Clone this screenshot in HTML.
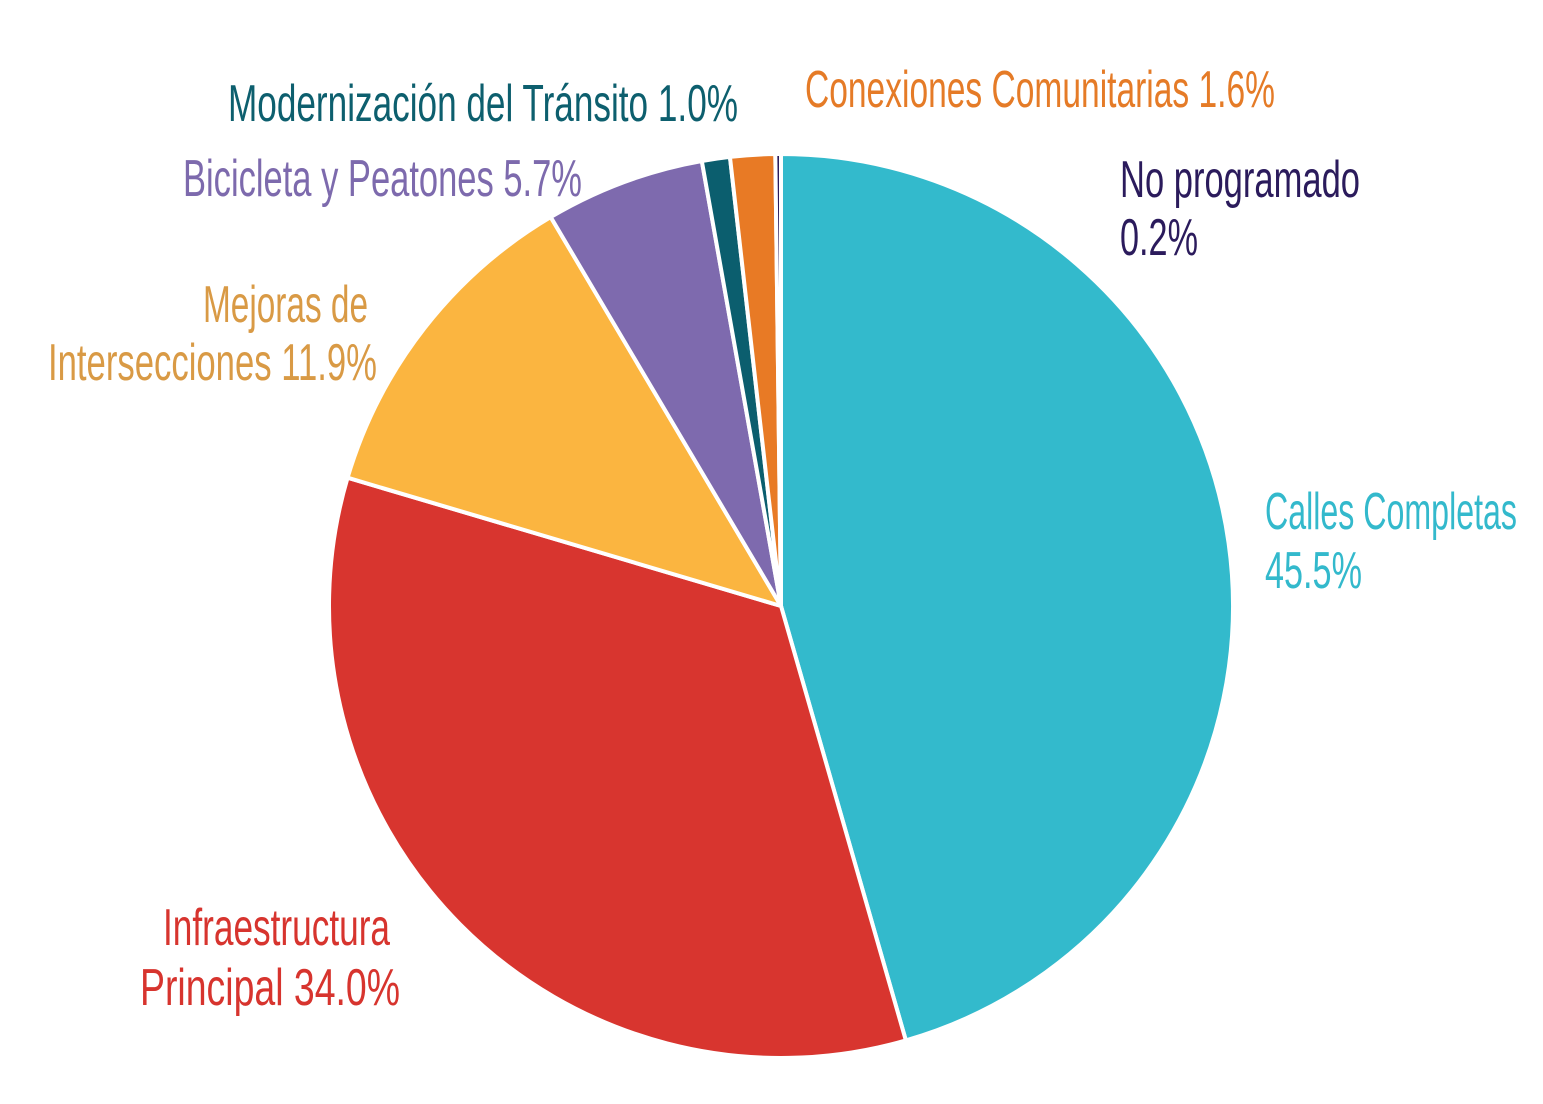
<!DOCTYPE html>
<html><head><meta charset="utf-8">
<style>
html,body{margin:0;padding:0;background:#fff;}
svg{display:block;}
text{font-family:"Liberation Sans Narrow","Liberation Sans",sans-serif;font-size:52px;}
</style></head>
<body>
<svg id="chart" width="1543" height="1104" viewBox="0 0 1543 1104" xmlns="http://www.w3.org/2000/svg">
<g id="slices"></g>
<g id="labels">
<text x="228" y="121" textLength="510" lengthAdjust="spacingAndGlyphs" fill="#0d5f6e">Modernización del Tránsito  1.0%</text>
<text x="805" y="107" textLength="470" lengthAdjust="spacingAndGlyphs" fill="#e57b27">Conexiones Comunitarias 1.6%</text>
<text x="1120" y="197" textLength="240" lengthAdjust="spacingAndGlyphs" fill="#2b1b5c">No programado</text>
<text x="1120" y="255" textLength="78" lengthAdjust="spacingAndGlyphs" fill="#2b1b5c">0.2%</text>
<text x="183" y="196" textLength="399" lengthAdjust="spacingAndGlyphs" fill="#7d6aad">Bicicleta y Peatones  5.7%</text>
<text x="203" y="322" textLength="165" lengthAdjust="spacingAndGlyphs" fill="#d99a45">Mejoras de</text>
<text x="48" y="380" textLength="329" lengthAdjust="spacingAndGlyphs" fill="#d99a45">Intersecciones  11.9%</text>
<text x="1265" y="529" textLength="252" lengthAdjust="spacingAndGlyphs" fill="#33b9cc">Calles Completas</text>
<text x="1265" y="588" textLength="97" lengthAdjust="spacingAndGlyphs" fill="#33b9cc">45.5%</text>
<text x="163" y="945" textLength="227" lengthAdjust="spacingAndGlyphs" fill="#d7342e">Infraestructura</text>
<text x="140" y="1005" textLength="260" lengthAdjust="spacingAndGlyphs" fill="#d7342e">Principal   34.0%</text>
</g>
</svg>
<script>
const categories = ["Calles Completas","Infraestructura Principal","Mejoras de Intersecciones","Bicicleta y Peatones","Modernización del Tránsito","Conexiones Comunitarias","No programado"];
const values = [45.5,34.0,11.9,5.7,1.0,1.6,0.2];
const colors = ["#33bacc","#d8352f","#fbb540","#7e6aae","#0b5e6e","#e87a25","#2b1b5c"];
const slugs = ["calles","infraestructura","mejoras","bicicleta","modernizacion","conexiones","no-programado"];
const cx = 781, cy = 606, r = 452;
const total = values.reduce((a,b)=>a+b,0);
const g = document.getElementById('slices');
function pt(a){return [cx + r*Math.sin(a), cy - r*Math.cos(a)];}
let acc = 0;
values.forEach((v,i)=>{
  const a0 = acc/total*2*Math.PI; acc += v;
  const a1 = acc/total*2*Math.PI;
  const p0 = pt(a0), p1 = pt(a1);
  const large = (a1-a0) > Math.PI ? 1 : 0;
  const path = document.createElementNS('http://www.w3.org/2000/svg','path');
  path.setAttribute('d', `M${cx},${cy} L${p0[0]},${p0[1]} A${r},${r} 0 ${large} 1 ${p1[0]},${p1[1]} Z`);
  path.setAttribute('fill', colors[i]);
  path.setAttribute('stroke', '#fff');
  path.setAttribute('stroke-width', '4');
  path.setAttribute('stroke-linejoin', 'round');
  
  
  g.appendChild(path);
});
</script>
</body></html>
